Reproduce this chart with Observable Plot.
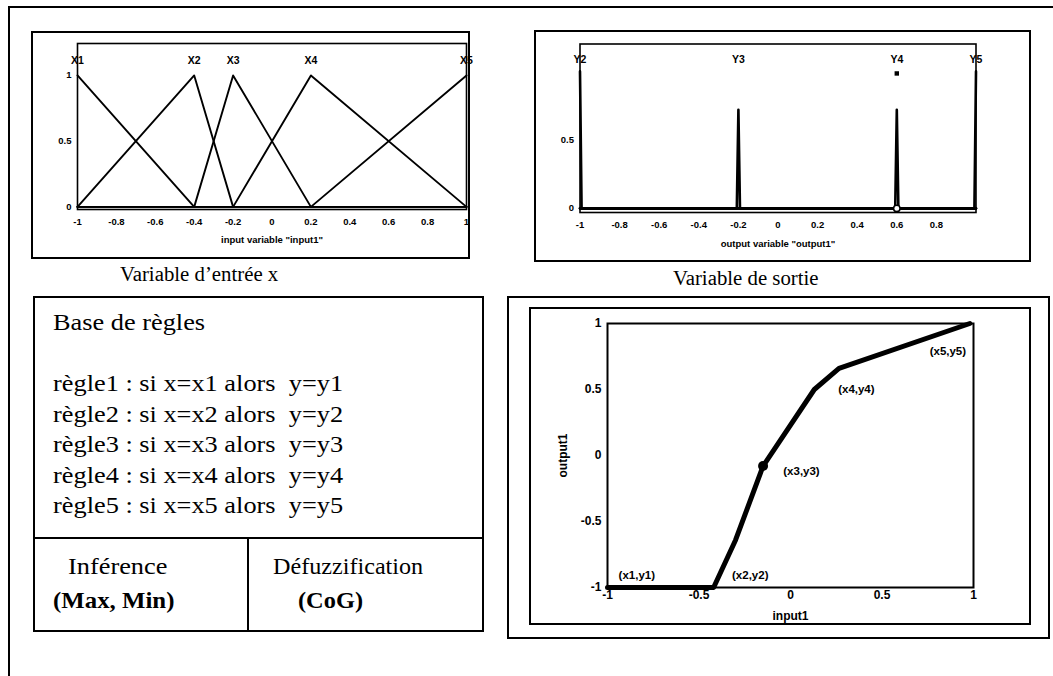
<!DOCTYPE html>
<html>
<head>
<meta charset="utf-8">
<script src="https://cdn.jsdelivr.net/npm/d3@7"></script>
<script src="https://cdn.jsdelivr.net/npm/@observablehq/plot@0.6"></script>
<style>
html, body { margin: 0; padding: 0; background: #fff; }
#page { position: relative; width: 1053px; height: 676px; overflow: hidden; background: #fff; }
.box { position: absolute; box-sizing: border-box; border: 2px solid #000; }
.chart { position: absolute; }
.chart svg { overflow: visible; }
.t { position: absolute; font-family: "Liberation Serif", "Times New Roman", serif; color: #000; white-space: pre; transform-origin: 0 0; }
</style>
</head>
<body>
<div id="page"></div>
<script>
// ---------- data: input membership functions ----------
const inputNames = ["X1", "X2", "X3", "X4", "X5"];
const inputLeft  = [-1, -1, -0.4, -0.2, 0.2];
const inputPeak  = [-1, -0.4, -0.2, 0.2, 1];
const inputRight = [-0.4, -0.2, 0.2, 1, 1];
const inputTicks = [-1, -0.8, -0.6, -0.4, -0.2, 0, 0.2, 0.4, 0.6, 0.8, 1];
const inputTickLabels = ["-1", "-0.8", "-0.6", "-0.4", "-0.2", "0", "0.2", "0.4", "0.6", "0.8", "1"];
const memberTicks = [0, 0.5, 1];
const memberTickLabels = ["0", "0.5", "1"];

// ---------- data: output membership functions ----------
const outputNames = ["Y2", "Y3", "Y4", "Y5"];
const outputCenters = [-1, -0.2, 0.6, 1];
const outputHeights = [1, 0.72, 0.72, 1];
const outputHalfWidth = [0.008, 0.008, 0.008, 0.008];
const outputTicks = [-1, -0.8, -0.6, -0.4, -0.2, 0, 0.2, 0.4, 0.6, 0.8];
const outputTickLabels = ["-1", "-0.8", "-0.6", "-0.4", "-0.2", "0", "0.2", "0.4", "0.6", "0.8"];
const outputYTicks = [0, 0.5];
const outputYTickLabels = ["0", "0.5"];

// ---------- data: input/output surface ----------
const surfaceX = [-1, -0.42, -0.3, -0.15, 0.13, 0.265, 0.98];
const surfaceY = [-1, -1, -0.64, -0.08, 0.5, 0.66, 1];
const pointLabels = ["(x1,y1)", "(x2,y2)", "(x3,y3)", "(x4,y4)", "(x5,y5)"];
const pointLabelX = [-0.84, -0.22, 0.06, 0.36, 0.86];
const pointLabelY = [-0.91, -0.91, -0.12, 0.5, 0.79];
const surfaceTicks = [-1, -0.5, 0, 0.5, 1];
const surfaceTickLabels = ["-1", "-0.5", "0", "0.5", "1"];

// ---------- texts ----------
const rulesTitle = "Base de règles";
const rules = [
  "règle1 : si x=x1 alors  y=y1",
  "règle2 : si x=x2 alors  y=y2",
  "règle3 : si x=x3 alors  y=y3",
  "règle4 : si x=x4 alors  y=y4",
  "règle5 : si x=x5 alors  y=y5"
];
const inferenceTitle = "Inférence";
const inferenceValue = "(Max, Min)";
const defuzzTitle = "Défuzzification";
const defuzzValue = "(CoG)";
const captionInput = "Variable d’entrée x";
const captionOutput = "Variable de sortie";

// ---------- helpers ----------
const page = document.getElementById("page");
function box(left, top, width, height, extra) {
  const d = document.createElement("div");
  d.className = "box";
  Object.assign(d.style, {left: left + "px", top: top + "px", width: width + "px", height: height + "px"}, extra || {});
  page.appendChild(d);
  return d;
}
function text(str, left, top, size, opts) {
  const d = document.createElement("div");
  d.className = "t";
  d.textContent = str;
  opts = opts || {};
  Object.assign(d.style, {
    left: left + "px", top: top + "px", fontSize: size + "px",
    lineHeight: (opts.lh || size) + "px",
    fontWeight: opts.bold ? "bold" : "normal",
    transform: "scaleX(" + (opts.sx || 1) + ")"
  });
  page.appendChild(d);
  return d;
}
function place(svg, left, top) {
  const w = document.createElement("div");
  w.className = "chart";
  w.style.left = left + "px";
  w.style.top = top + "px";
  w.appendChild(svg);
  page.appendChild(w);
}
const axisStyle = {fontFamily: "'Liberation Sans', Arial, sans-serif", fontWeight: "bold", background: "transparent", color: "#000", overflow: "visible"};

// ---------- outer page border (top + left) ----------
box(8, 6, 1200, 800, {border: "none", borderTop: "2px solid #000", borderLeft: "2px solid #000"});

// ---------- top-left: input membership functions ----------
const mfRows = inputNames.flatMap((name, i) => {
  const pts = [];
  if (inputLeft[i] < inputPeak[i]) {
    pts.push([-1, 0]);
    if (inputLeft[i] > -1) pts.push([inputLeft[i], 0]);
  }
  pts.push([inputPeak[i], 1]);
  if (inputRight[i] > inputPeak[i]) {
    pts.push([inputRight[i], 0]);
    if (inputRight[i] < 1) pts.push([1, 0]);
  }
  return pts.map(([x, y]) => ({name, x, y}));
});
const inputLabelRows = inputNames.map((name, i) => ({name, x: inputPeak[i]}));

const plotIn = Plot.plot({
  width: 439, height: 228,
  marginLeft: 46, marginRight: 4, marginTop: 12, marginBottom: 50,
  style: {...axisStyle, fontSize: "9.5px"},
  x: {domain: [-1, 1], ticks: inputTicks, tickFormat: d => inputTickLabels[inputTicks.indexOf(d)],
      tickSize: 0, tickPadding: 9, label: 'input variable "input1"', labelAnchor: "center", labelArrow: "none", labelOffset: 33},
  y: {domain: [-0.02, 1.243], ticks: memberTicks, tickFormat: d => memberTickLabels[memberTicks.indexOf(d)],
      tickSize: 0, tickPadding: 6, label: null},
  marks: [
    Plot.frame({stroke: "#000", strokeWidth: 1.6}),
    Plot.line(mfRows, {x: "x", y: "y", z: "name", stroke: "#000", strokeWidth: 1.9}),
    Plot.text(inputLabelRows, {x: "x", y: () => 1.114, text: "name", fontSize: 10.5, fontWeight: "bold", fill: "#000"})
  ]
});
box(31, 31, 439, 228);
place(plotIn, 31, 31);
text(captionInput, 120, 263, 20, {lh: 22, sx: 1.04});

// ---------- top-right: output membership functions ----------
const outRows = outputNames.flatMap((name, i) => {
  const c = outputCenters[i], h = outputHeights[i], w = outputHalfWidth[i];
  const pts = [];
  if (c - w > -1) { pts.push([-1, 0]); pts.push([c - w, 0]); }
  pts.push([c, h]);
  if (c + w < 1) { pts.push([c + w, 0]); pts.push([1, 0]); }
  return pts.map(([x, y]) => ({name, x, y}));
});
const outputLabelRows = outputNames.map((name, i) => ({name, x: outputCenters[i]}));

const plotOut = Plot.plot({
  width: 497, height: 232,
  marginLeft: 45.5, marginRight: 55.5, marginTop: 13.5, marginBottom: 50,
  style: {...axisStyle, fontSize: "9.5px"},
  x: {domain: [-1, 1], ticks: outputTicks, tickFormat: d => outputTickLabels[outputTicks.indexOf(d)],
      tickSize: 0, tickPadding: 9, label: 'output variable "output1"', labelAnchor: "center", labelArrow: "none", labelOffset: 34},
  y: {domain: [-0.03, 1.2], ticks: outputYTicks, tickFormat: d => outputYTickLabels[outputYTicks.indexOf(d)],
      tickSize: 0, tickPadding: 6, label: null},
  marks: [
    Plot.frame({stroke: "#000", strokeWidth: 1.6}),
    Plot.line(outRows, {x: "x", y: "y", z: "name", stroke: "#000", strokeWidth: 2.6}),
    Plot.text(outputLabelRows, {x: "x", y: () => 1.085, text: "name", fontSize: 10.5, fontWeight: "bold", fill: "#000"}),
    Plot.dot([outputCenters[2]], {x: d => d, y: () => 0, r: 3.2, stroke: "#000", fill: "#fff", strokeWidth: 1.5}),
    Plot.dot([outputCenters[2]], {x: d => d, y: () => 0.985, r: 2.5, symbol: "square", fill: "#000"})
  ]
});
box(534, 30, 497, 232);
place(plotOut, 534, 30);
text(captionOutput, 673, 267, 20, {lh: 22, sx: 1.04});

// ---------- bottom-left: rule base ----------
box(33, 296, 451, 336);
box(33, 537, 451, 95, {border: "none", borderTop: "2px solid #000"});
box(247, 537, 2, 95, {border: "none", borderLeft: "2px solid #000"});
const RS = 23, SX = 1.145;
text(rulesTitle, 53, 308, RS, {lh: 30.5, sx: SX});
rules.forEach((r, i) => text(r, 53, 369 + i * 30.5, RS, {lh: 30.5, sx: SX}));
text(inferenceTitle, 68, 552, RS, {lh: 30.5, sx: SX});
text(inferenceValue, 53, 586, RS, {lh: 30.5, sx: 1.08, bold: true});
text(defuzzTitle, 273, 552, RS, {lh: 30.5, sx: 1.05});
text(defuzzValue, 298, 586, RS, {lh: 30.5, sx: 1.06, bold: true});

// ---------- bottom-right: input/output surface ----------
const surfRows = surfaceX.map((x, i) => ({x, y: surfaceY[i]}));
const pointRows = pointLabels.map((label, i) => ({label, x: pointLabelX[i], y: pointLabelY[i]}));

const plotSurf = Plot.plot({
  width: 502, height: 318,
  marginLeft: 78, marginRight: 58, marginTop: 16, marginBottom: 38,
  style: {...axisStyle, fontSize: "12px"},
  x: {domain: [-1, 1], ticks: surfaceTicks, tickFormat: d => surfaceTickLabels[surfaceTicks.indexOf(d)],
      tickSize: 0, tickPadding: 3, label: "input1", labelAnchor: "center", labelArrow: "none", labelOffset: 32},
  y: {domain: [-1, 1], ticks: surfaceTicks, tickFormat: d => surfaceTickLabels[surfaceTicks.indexOf(d)],
      tickSize: 0, tickPadding: 6, label: "output1", labelAnchor: "center", labelArrow: "none", labelOffset: 49},
  marks: [
    Plot.frame({stroke: "#000", strokeWidth: 2}),
    Plot.line(surfRows, {x: "x", y: "y", stroke: "#000", strokeWidth: 5, strokeLinejoin: "round"}),
    Plot.dot([surfRows[3]], {x: "x", y: "y", r: 5, fill: "#000"}),
    Plot.text(pointRows, {x: "x", y: "y", text: "label", fontSize: 11.5, fontWeight: "bold", fill: "#000"})
  ]
});
box(507, 296, 543, 343);
box(529, 307, 502, 318);
place(plotSurf, 529, 307);
</script>
</body>
</html>
